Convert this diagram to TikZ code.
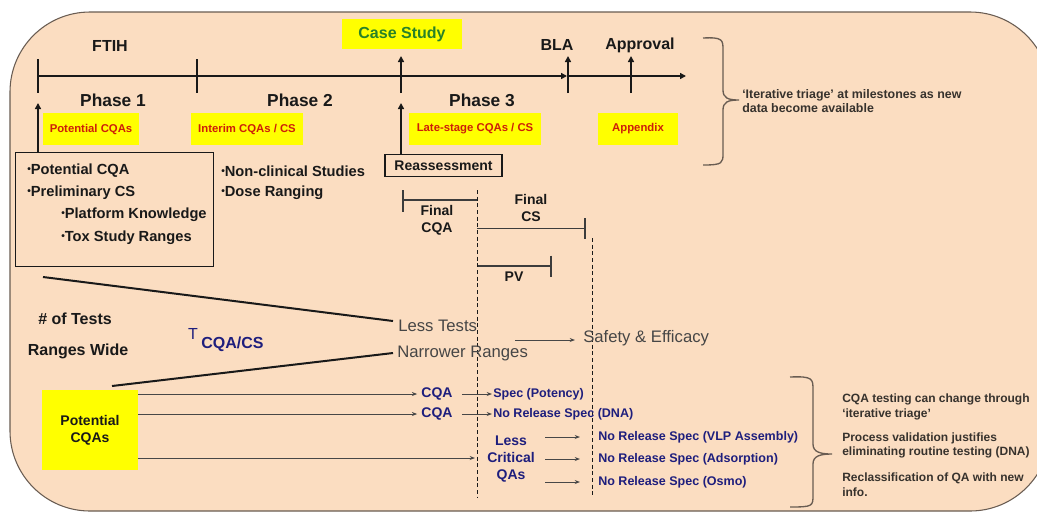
\documentclass[tikz,border=0pt]{standalone}
\usepackage{fontspec}
\setmainfont{Liberation Sans}
\usepackage{graphicx}
\usetikzlibrary{arrows.meta,calc}
\definecolor{peach}{RGB}{251,221,193}
\definecolor{rim}{RGB}{105,92,82}
\definecolor{hilite}{RGB}{255,255,0}
\definecolor{redtxt}{RGB}{205,30,10}
\definecolor{greentxt}{RGB}{40,130,40}
\definecolor{navy}{RGB}{30,30,125}
\definecolor{ink}{RGB}{25,25,25}
\definecolor{greytxt}{RGB}{70,70,70}
\definecolor{notetxt}{RGB}{55,50,45}
\newcommand\fs[2]{\fontsize{#1}{#2}\selectfont}
\newcommand\bdot{\raisebox{.25ex}{\scalebox{.7}{•}}}
\begin{document}
\begin{tikzpicture}[x=0.75pt,y=-0.75pt,
  axis/.style={line width=1.9pt, draw=ink},
  tip/.style={-{Triangle[length=4.5pt,width=4.5pt]}},
  milestone/.style={font=\bfseries\fs{12}{14}, text=ink, inner sep=1pt},
  phase/.style={font=\bfseries\fs{13}{15}, text=ink, inner sep=1pt},
  tag/.style={fill=hilite, text=redtxt, font=\bfseries\fs{8.5}{10}, minimum height=24pt, inner sep=0pt},
  item/.style={font=\bfseries\fs{11}{12}, text=ink, anchor=west, inner sep=0pt},
  frame/.style={draw=ink, line width=0.8pt, inner sep=0pt},
  span/.style={line width=1.2pt, draw=ink!85},
  spanlabel/.style={font=\bfseries\fs{10.5}{12.8}, text=ink, align=center, inner sep=0pt},
  guide/.style={draw=ink, line width=0.6pt, dash pattern=on 3pt off 2pt},
  trend/.style={line width=1.5pt, draw=ink},
  soft/.style={font=\fs{12.5}{14}, text=greytxt, inner sep=0pt, anchor=west},
  feed/.style={line width=0.7pt, draw=ink!80, -{Stealth[length=4pt,width=3pt]}},
  cqa/.style={font=\bfseries\fs{10.5}{13}, text=navy, inner sep=0pt},
  spec/.style={font=\bfseries\fs{9.4}{11}, text=navy, inner sep=0pt, anchor=west},
  note/.style={font=\bfseries\fs{9}{11}, text=notetxt, inner sep=0pt, anchor=west, align=left},
  brace/.style={line width=1pt, draw=rim}
]
\useasboundingbox (0,0) rectangle (1037,512);

% backdrop panel
\begin{scope}
  \clip (0,0) rectangle (1037,512);
  \path[fill=peach, draw=rim, line width=0.8pt, rounded corners=60pt] (10,12) rectangle (1050,511);
\end{scope}

% timeline
\coordinate (t0) at (38,76);
\coordinate (t1) at (197,76);
\coordinate (t2) at (401,76);
\coordinate (t3) at (568,76);
\coordinate (t4) at (631,76);
\coordinate (tend) at (686,76);
\draw[axis, tip] (t0) -- ($(t3)+(-1,0)$);
\draw[axis, tip] (t3) -- (tend);
\draw[axis] ($(t0)+(0,-17)$) -- ($(t0)+(0,17)$);
\draw[axis] ($(t1)+(0,-17)$) -- ($(t1)+(0,17)$);
\foreach \m in {t2,t3,t4} \draw[axis, tip] ($(\m)+(0,17)$) -- ($(\m)+(0,-20)$);

% milestones
\node[milestone] (ftih) at (110,46) {FTIH};
\node[milestone, fill=hilite, text=greentxt, minimum width=90pt, minimum height=22.5pt] (case) at (402,34) {Case Study};
\node[milestone] (bla) at (557,45) {BLA};
\node[milestone] (appr) at (640,45) {Approval};

% phases
\node[phase] (ph1) at (113,100) {Phase 1};
\node[phase] (ph2) at (300,100) {Phase 2};
\node[phase] (ph3) at (482,100) {Phase 3};

% highlighted tags
\node[tag, minimum width=72pt] (tag1) at (91,129) {Potential CQAs};
\node[tag, minimum width=84pt] (tag2) at (247,129) {Interim CQAs / CS};
\node[tag, minimum width=99pt] (tag3) at (475,129) {Late-stage CQAs / CS};
\node[tag, minimum width=60pt] (tag4) at (638,129) {Appendix};

% phase 1 inputs
\node[frame, minimum width=148.5pt, minimum height=85pt] (p1box) at (114.5,209.5) {};
\node[item] (i1) at (27,171) {\bdot Potential CQA};
\node[item] (i2) at (27,193) {\bdot Preliminary CS};
\node[item] (i3) at (61,215) {\bdot Platform Knowledge};
\node[item] (i4) at (61,238) {\bdot Tox Study Ranges};
\draw[axis, line width=1.8pt, tip] (p1box.north -| t0) -- ($(t0)+(0,27)$);

% phase 2 inputs
\node[item] (i5) at (221,171) {\bdot Non-clinical Studies};
\node[item] (i6) at (221,193) {\bdot Dose Ranging};

% reassessment
\node[frame, font=\bfseries\fs{10.5}{12}, text=ink, minimum width=87.75pt, minimum height=17pt] (reas) at (443.5,165.5) {Reassessment};
\draw[axis, line width=1.8pt, tip] (reas.north -| t2) -- ($(t2)+(0,27)$);

% final CQA / final CS / PV spans
\coordinate (fq0) at (403,200);
\coordinate (fq1) at (477,200);
\draw[span] ($(fq0)+(0,-10)$) -- ($(fq0)+(0,12)$);
\draw[span] (fq0) -- (fq1);
\node[spanlabel] (fcqa) at (437,220) {Final\\CQA};
\coordinate (fc0) at (477,228.5);
\coordinate (fc1) at (585,228.5);
\draw[span] (fc0) -- (fc1);
\draw[span] ($(fc1)+(0,-10.5)$) -- ($(fc1)+(0,10.5)$);
\node[spanlabel] (fcs) at (531,208) {Final\\CS};
\coordinate (pv0) at (477,266);
\coordinate (pv1) at (551,266);
\draw[span] (pv0) -- (pv1);
\draw[span] ($(pv1)+(0,-10.5)$) -- ($(pv1)+(0,10.5)$);
\node[spanlabel] (pv) at (514,277) {PV};

% guides
\draw[guide] (477,190) -- (477,497);
\draw[guide] (592,238) -- (592,497);

% trends
\node[milestone] (ntests) at (75,319) {\# of Tests};
\node[milestone] (rwide) at (78,351) {Ranges Wide};
\node[font=\fs{12}{12}, text=navy, inner sep=0pt] (tee) at (193,334) {T};
\node[font=\bfseries\fs{12}{12}, text=navy, inner sep=0pt, anchor=west] (teesub) at (201,344) {CQA/CS};
\node[soft] (less) at (398,326) {Less Tests};
\node[soft] (narrow) at (397,353) {Narrower Ranges};
\node[soft] (safe) at (583,338) {Safety \& Efficacy};
\coordinate (trendA) at (43,277);
\coordinate (trendB) at (112,386);
\draw[trend] (trendA) -- ($(less.west)+(-5,-5)$);
\draw[trend] (trendB) -- ($(narrow.west)+(-4,0)$);
\draw[feed] ($(safe.west)+(-68,2)$) -- ($(safe.west)+(-8,2)$);

% potential CQAs and their outcomes
\node[fill=hilite, minimum width=72pt, minimum height=60pt, font=\bfseries\fs{10.5}{12.5}, text=ink, align=center, inner sep=0pt] (pcqa) at (90,430) {Potential\\CQAs};
\node[cqa] (cqa1) at (437,394) {CQA};
\node[cqa] (cqa2) at (437,414) {CQA};
\node[spec] (spec1) at (493,394) {Spec (Potency)};
\node[spec] (spec2) at (493,414) {No Release Spec (DNA)};
\node[cqa, align=center] (lcqa) at (511,459) {Less\\Critical\\QAs};
\node[spec] (spec3) at (598,437) {No Release Spec (VLP Assembly)};
\node[spec] (spec4) at (598,459) {No Release Spec (Adsorption)};
\node[spec] (spec5) at (598,482) {No Release Spec (Osmo)};
\coordinate (lcin) at (475,458);

\draw[feed] (pcqa.east |- cqa1) -- ($(cqa1.west)+(-4,0)$);
\draw[feed] (pcqa.east |- cqa2) -- ($(cqa2.west)+(-4,0)$);
\draw[feed] (pcqa.east |- lcin) -- (lcin);
\draw[feed] ($(cqa1.east)+(9,0)$) -- ($(spec1.west)+(-1,0)$);
\draw[feed] ($(cqa2.east)+(9,0)$) -- ($(spec2.west)+(-1,0)$);
\foreach \s in {spec3,spec4,spec5}
  \draw[feed] ($(\s.west)+(-53,0)$) -- ($(\s.west)+(-18,0)$);

% braces and notes
\draw[brace] (703,38) .. controls (723,37) and (723,40) .. (723,50) -- (723,90)
  .. controls (723,98) and (728,100) .. (739,100)
  .. controls (728,100) and (723,102) .. (723,110) -- (723,153)
  .. controls (723,163) and (723,165) .. (703,165);
\node[note, font=\bfseries\fs{9.3}{11}] (tri) at (742,101) {‘Iterative triage’ at milestones as new\\data become available};

\draw[brace] (790,377) .. controls (813,376) and (813,379) .. (813,390) -- (813,444)
  .. controls (813,452) and (820,454) .. (832,454)
  .. controls (820,454) and (813,456) .. (813,464) -- (813,495)
  .. controls (813,506) and (813,507) .. (790,507);
\node[note] (n1) at (842,407) {CQA testing can change through\\‘iterative triage’};
\node[note] (n2) at (842,445.5) {Process validation justifies\\eliminating routine testing (DNA)};
\node[note] (n3) at (842,484.5) {Reclassification of QA with new\\info.};
\end{tikzpicture}
\end{document}
